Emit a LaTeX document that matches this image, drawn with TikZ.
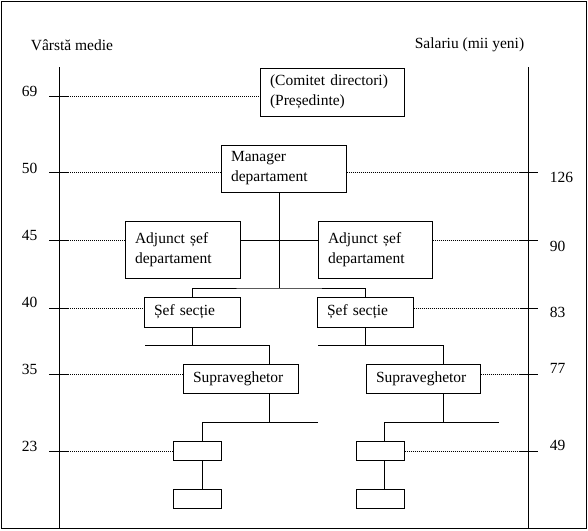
\documentclass[tikz,border=0pt]{standalone}
\usepackage{fontspec}
\setmainfont{Liberation Serif}
\usetikzlibrary{calc}

\begin{document}
\begin{tikzpicture}[x=1pt, y=-1pt, line width=1pt,
  txt/.style={font=\fontsize{15.5}{20}\selectfont},
  box/.style={draw, rectangle, txt, align=left, inner xsep=10pt, inner ysep=0pt},
  guide/.style={line width=0.8pt, dash pattern=on 1pt off 1pt},
  tick/.style={line width=1pt}]

\useasboundingbox (0,0) rectangle (588,530);

% cadru
\draw[line width=1.5pt] (1.5,1.5) rectangle (586.5,528.5);

% titluri axe
\node[txt, anchor=west] (tVarsta) at (27,45) {Vârstă medie};
\node[txt, anchor=west] (tSalariu) at (411,45) {Salariu (mii yeni)};

% axe verticale
\coordinate (axL) at (59,67);
\coordinate (axR) at (528,67);
\draw (axL) -- (59,528);
\draw (axR) -- (528,528);

% nivele
\coordinate (y69) at (68,96);
\coordinate (y50) at (68,172);
\coordinate (y45) at (68,240);
\coordinate (y40) at (68,308);
\coordinate (y35) at (68,374);
\coordinate (y23) at (68,451);

% cutii
\node[box, text width=124pt, minimum width=144pt, minimum height=48pt] (com) at (332,92)
  {(Comitet directori)\\(Președinte)};
\node[box, text width=105pt, minimum width=125pt, minimum height=47pt] (mgr) at (283.5,168.5)
  {Manager\\departament};
\node[box, text width=95pt, minimum width=115pt, minimum height=57pt] (adjL) at (182.5,249.5)
  {Adjunct șef\\departament};
\node[box, text width=94pt, minimum width=114pt, minimum height=57pt] (adjR) at (375,249.5)
  {Adjunct șef\\departament};
\node[box, text width=76pt, minimum width=96pt, minimum height=30pt] (sefL) at (192,312) {Șef secție};
\node[box, text width=76pt, minimum width=96pt, minimum height=30pt] (sefR) at (365,312) {Șef secție};
\node[box, text width=95pt, minimum width=115pt, minimum height=29pt] (supL) at (240.5,378.5) {Supraveghetor};
\node[box, text width=94pt, minimum width=114pt, minimum height=29pt] (supR) at (423,378.5) {Supraveghetor};
\node[draw, minimum width=48pt, minimum height=19pt, inner sep=0pt] (smL1) at (197,450.5) {};
\node[draw, minimum width=48pt, minimum height=19pt, inner sep=0pt] (smL2) at (197,498.5) {};
\node[draw, minimum width=48pt, minimum height=19pt, inner sep=0pt] (smR1) at (380,450.5) {};
\node[draw, minimum width=48pt, minimum height=19pt, inner sep=0pt] (smR2) at (380,498.5) {};

% linii punctate spre axe
\draw[guide] (y69) -- (com.west |- y69);
\draw[guide] (y50) -- (mgr.west |- y50);
\draw[guide] (mgr.east |- y50) -- (520,172);
\draw[guide] (y45) -- (adjL.west |- y45);
\draw[guide] (adjR.east |- y45) -- (520,240);
\draw[guide] (y40) -- (sefL.west |- y40);
\draw[guide] (sefR.east |- y40) -- (520,308);
\draw[guide] (y35) -- (supL.west |- y35);
\draw[guide] (supR.east |- y35) -- (520,374);
\draw[guide] (y23) -- (smL1.west |- y23);
\draw[guide] (smR1.east |- y23) -- (520,451);

% gradatii stanga
\draw[tick] (49,96) -- (y69);
\draw[tick] (49,172) -- (y50);
\draw[tick] (49,240) -- (y45);
\draw[tick] (49,308) -- (y40);
\draw[tick] (49,374) -- (y35);
\draw[tick] (49,451) -- (y23);

% gradatii dreapta
\draw[tick] (520,172) -- (538,172);
\draw[tick] (520,240) -- (538,240);
\draw[tick] (520,308) -- (538,308);
\draw[tick] (520,374) -- (538,374);
\draw[tick] (520,451) -- (538,451);

% varste
\node[txt, anchor=west] (v69) at (18,91) {69};
\node[txt, anchor=west] (v50) at (18,168) {50};
\node[txt, anchor=west] (v45) at (18,235) {45};
\node[txt, anchor=west] (v40) at (18,302) {40};
\node[txt, anchor=west] (v35) at (18,369) {35};
\node[txt, anchor=west] (v23) at (18,446) {23};

% salarii
\node[txt, anchor=west] (s126) at (546,177) {126};
\node[txt, anchor=west] (s90) at (546,246) {90};
\node[txt, anchor=west] (s83) at (546,312) {83};
\node[txt, anchor=west] (s77) at (546,368) {77};
\node[txt, anchor=west] (s49) at (546,445) {49};

% manager -> adjuncti -> sefi de sectie
\coordinate (jM) at (279.5,288);
\draw (mgr.south -| jM) -- (jM);
\draw (adjL.east |- y45) -- (adjR.west |- y45);
\draw (sefL.north) |- (jM) -| (sefR.north);

% sef sectie -> supraveghetor
\coordinate (bL) at (145,345);
\coordinate (bR) at (318,345);
\coordinate (dL) at (269,345);
\coordinate (dR) at (443,345);
\draw (sefL.south) -- (sefL.south |- bL);
\draw (bL) -- (dL) -- (supL.north -| dL);
\draw (sefR.south) -- (sefR.south |- bR);
\draw (bR) -- (dR) -- (supR.north -| dR);

% supraveghetor -> posturi
\coordinate (cL) at (202,422);
\coordinate (cR) at (384,422);
\coordinate (eL) at (318,422);
\coordinate (eR) at (499,422);
\draw (supL.south -| dL) -- (dL |- cL);
\draw (eL) -- (cL) -- (smL1.north -| cL);
\draw (smL1.south -| cL) -- (smL2.north -| cL);
\draw (supR.south -| dR) -- (dR |- cR);
\draw (eR) -- (cR) -- (smR1.north -| cR);
\draw (smR1.south -| cR) -- (smR2.north -| cR);

\end{tikzpicture}
\end{document}
